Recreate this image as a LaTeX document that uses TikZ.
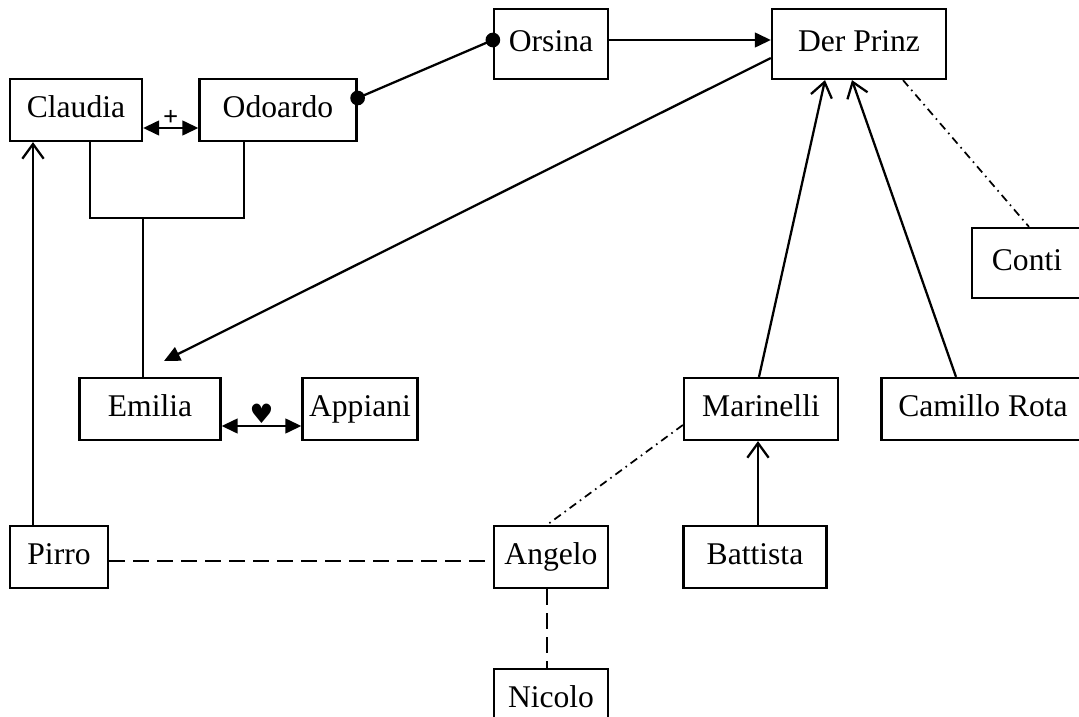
\documentclass[tikz,border=0pt]{standalone}
\usepackage{fontspec}
\setmainfont{Liberation Serif}
\newfontfamily\symfont{DejaVu Sans}
\usetikzlibrary{arrows.meta}

\begin{document}
\begin{tikzpicture}[
  x=0.75pt, y=-0.75pt,
  every node/.style={font=\fontsize{23.7}{28}\selectfont},
  box/.style={draw, line width=1.7pt, minimum width=#1*0.75pt, minimum height=46.5pt,
    inner sep=0pt, text height=16pt, text depth=5pt},
  tall/.style={box=#1, minimum height=52.5pt},
  rel/.style={line width=1.7pt},
  hits/.style={rel, -{Triangle[length=12pt, width=11pt]}},
  couple/.style={rel, {Triangle[length=12pt, width=11pt]}-{Triangle[length=12pt, width=11pt]}},
  affair/.style={rel, {Circle[length=11pt]}-{Circle[length=11pt]}, shorten <=-5.5pt, shorten >=-5.5pt},
  serves/.style={rel, -{Straight Barb[length=11pt, width=16pt]}},
  hint/.style={line width=1.3pt, dash pattern=on 6pt off 3.5pt on 1.2pt off 3.5pt},
  contact/.style={rel, dash pattern=on 12pt off 6pt},
  sign/.style={font=\fontsize{20}{22}\selectfont, inner sep=1pt}
]
\useasboundingbox (0,0) rectangle (1079,717);

\node[box=132] (claudia) at (76,110) {Claudia};
\node[box=157] (odoardo) at (278,110) {Odoardo};
\node[tall=114] (orsina) at (551,44) {Orsina};
\node[tall=174] (prinz) at (859,44) {Der Prinz};
\node[tall=110] (conti) at (1027,263) {Conti};
\node[box=141] (emilia) at (150,409) {Emilia};
\node[box=115] (appiani) at (360,409) {Appiani};
\node[box=154] (marinelli) at (761,409) {Marinelli};
\node[box=203] (camillo) at (983,409) {Camillo Rota};
\node[box=98] (pirro) at (59,557) {Pirro};
\node[box=114] (angelo) at (551,557) {Angelo};
\node[box=143] (battista) at (755,557) {Battista};
\node[box=114] (nicolo) at (551,700) {Nicolo};

\coordinate (parents) at (143,218);
\coordinate (emiliaIn) at (164,361);

% family
\draw[couple] (claudia.east |- 0,128) -- (odoardo.west |- 0,128)
  node[sign, midway, above] (plus) {\textbf{+}};
\draw[rel] (claudia.south -| 90,0) |- (parents) -| (odoardo.south -| 244,0);
\draw[rel] (parents) -- (parents |- emilia.north);
\draw[couple] (emilia.east |- 0,426) -- (appiani.west |- 0,426)
  node[sign, midway, above] (heart) {\symfont ♥};

% court
\draw[affair] (odoardo.east |- 0,98) -- (orsina.west |- 0,40);
\draw[hits] (orsina.east |- 0,40) -- (prinz.west |- 0,40);
\draw[hits] (prinz.west |- 0,58) -- (emiliaIn);
\draw[serves] (pirro.north -| 33,0) -- (claudia.south -| 33,0);
\draw[serves] (marinelli.north -| 759,0) -- (prinz.south -| 825,0);
\draw[serves] (camillo.north -| 956,0) -- (prinz.south -| 852,0);
\draw[serves] (battista.north -| 758,0) -- (marinelli.south -| 758,0);

% loose ties
\draw[hint] (prinz.south -| 903,0) -- (conti.north -| 1029,0);
\draw[hint] (marinelli.west |- 0,425) -- (angelo.north -| 547,0);
\draw[contact] (pirro.east |- 0,561) -- (angelo.west |- 0,561);
\draw[contact] (angelo.south -| 547,0) -- (nicolo.north -| 547,0);

\end{tikzpicture}
\end{document}
